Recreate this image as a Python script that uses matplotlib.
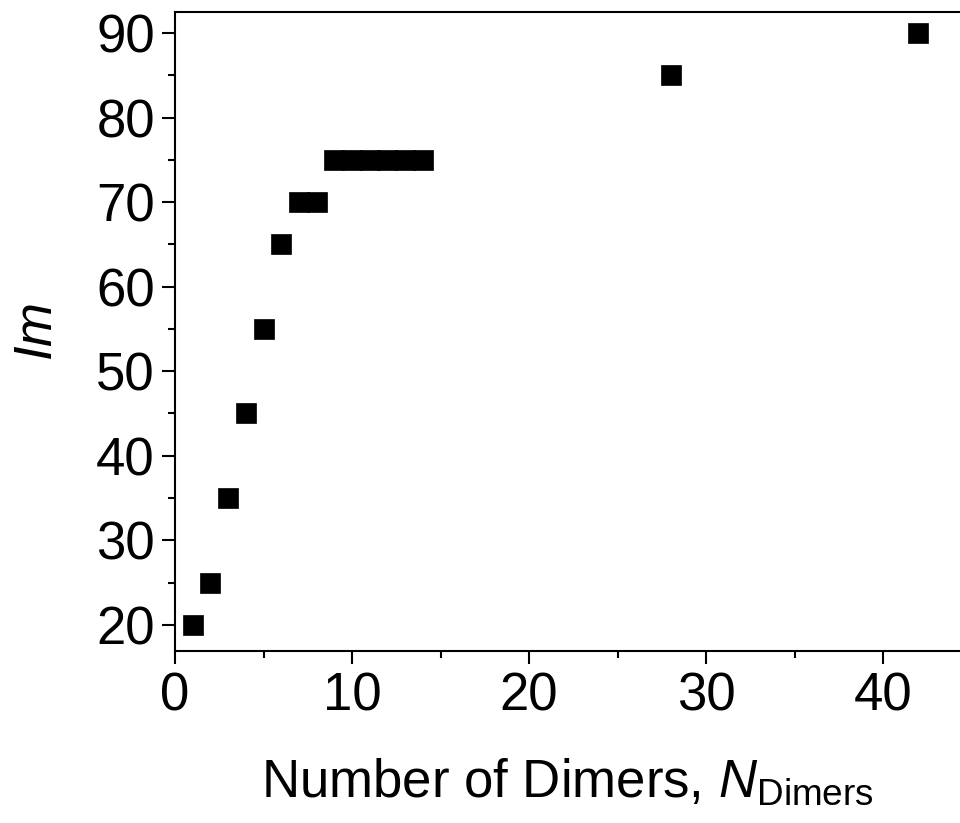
import matplotlib
matplotlib.use("Agg")
import matplotlib.pyplot as plt
from matplotlib.ticker import MultipleLocator

plt.rcParams["font.family"] = ["Liberation Sans", "DejaVu Sans"]
plt.rcParams["mathtext.fontset"] = "custom"
plt.rcParams["mathtext.rm"] = "Liberation Sans"
plt.rcParams["mathtext.it"] = "Liberation Sans:italic"

# Data
n_dimers = [1, 2, 3, 4, 5, 6, 7, 8, 9, 10, 11, 12, 13, 14, 28, 42]
lm = [20, 25, 35, 45, 55, 65, 70, 70, 75, 75, 75, 75, 75, 75, 85, 90]

fig = plt.figure(figsize=(9.6, 8.23), dpi=100)
ax = fig.add_axes([0.1823, 0.2090, 0.8177, 0.7764])

ax.plot(n_dimers, lm, linestyle="none", marker="s", markersize=15,
        color="black", markeredgewidth=0.5)

ax.set_xlim(0, 44.35)
ax.set_ylim(16.9, 92.5)
ax.xaxis.set_major_locator(MultipleLocator(10))
ax.xaxis.set_minor_locator(MultipleLocator(5))
ax.yaxis.set_major_locator(MultipleLocator(10))
ax.yaxis.set_minor_locator(MultipleLocator(5))

ax.spines["right"].set_visible(False)
for s in ["left", "bottom", "top"]:
    ax.spines[s].set_linewidth(1.5)

ax.tick_params(which="major", direction="out", length=9.5, width=1.5,
               labelsize=38, pad=5)
ax.tick_params(which="minor", direction="out", length=5, width=1.5)
ax.tick_params(top=False, right=False)

ax.set_xlabel(r"Number of Dimers, $\mathit{N}_{\mathrm{Dimers}}$", fontsize=38,
              labelpad=26)
ax.set_ylabel(r"$\mathit{Im}$", fontsize=38, labelpad=24)

fig.savefig("out.png", dpi=100)
